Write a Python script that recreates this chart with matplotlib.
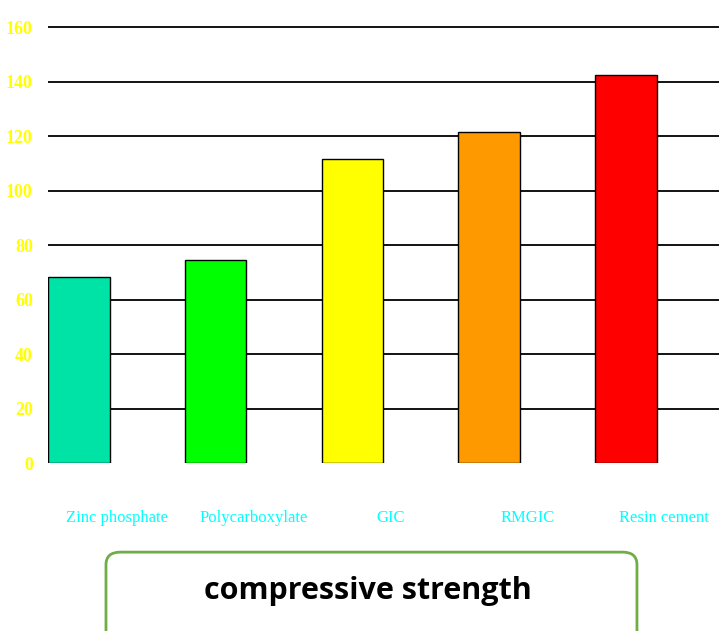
import matplotlib.pyplot as plt
import matplotlib.transforms as mtransforms
from matplotlib.patches import FancyBboxPatch
import numpy as np

materials = ['Zinc phosphate', 'Polycarboxylate', 'GIC', 'RMGIC', 'Resin cement']
strength = [68.5, 74.5, 111.5, 121.5, 142.5]
bar_colors = ['#00E3A6', '#00FF00', '#FFFF00', '#FF9900', '#FF0000']
yticks = [0, 20, 40, 60, 80, 100, 120, 140, 160]

fig = plt.figure(figsize=(7.19, 6.31), dpi=100)
ax = fig.add_axes([0.0668, 0.266, 0.9332, 0.693])

x = np.arange(len(materials))
ax.bar(x, strength, width=0.45, color=bar_colors, edgecolor='black', linewidth=1, zorder=3)

# horizontal grid lines (none at zero)
for v in yticks[1:]:
    ax.axhline(v, color='black', linewidth=1.3, zorder=1)

ax.set_xlim(-0.225, 4.68)
ax.set_ylim(0, 160.5)
ax.set_yticks(yticks)
ax.set_yticklabels([str(v) for v in yticks], color='#FFFF00', fontsize=13,
                   fontweight='bold', family='Liberation Serif')
ax.tick_params(axis='y', length=0, pad=11)
ax.set_xticks([])
for s in ax.spines.values():
    s.set_visible(False)

# category labels, shifted right of the bars
trans = mtransforms.blended_transform_factory(ax.transData, ax.transAxes)
for i, name in enumerate(materials):
    ax.text(i + 0.28, -0.125, name, transform=trans, ha='center', va='center',
            color='#00FFFF', fontsize=12, family='Liberation Serif', clip_on=False)

# rounded title box at the bottom
box = FancyBboxPatch((0.1474, -0.05), 0.7385, 0.175, boxstyle='round,pad=0,rounding_size=0.02',
                     transform=fig.transFigure, facecolor='white', edgecolor='#70AD47',
                     linewidth=2, clip_on=False)
fig.patches.append(box)
fig.text(0.512, 0.0634, 'compressive strength', ha='center', va='center',
         fontsize=22, fontweight='bold', family='Open Sans')

fig.savefig('out.png', dpi=100)
